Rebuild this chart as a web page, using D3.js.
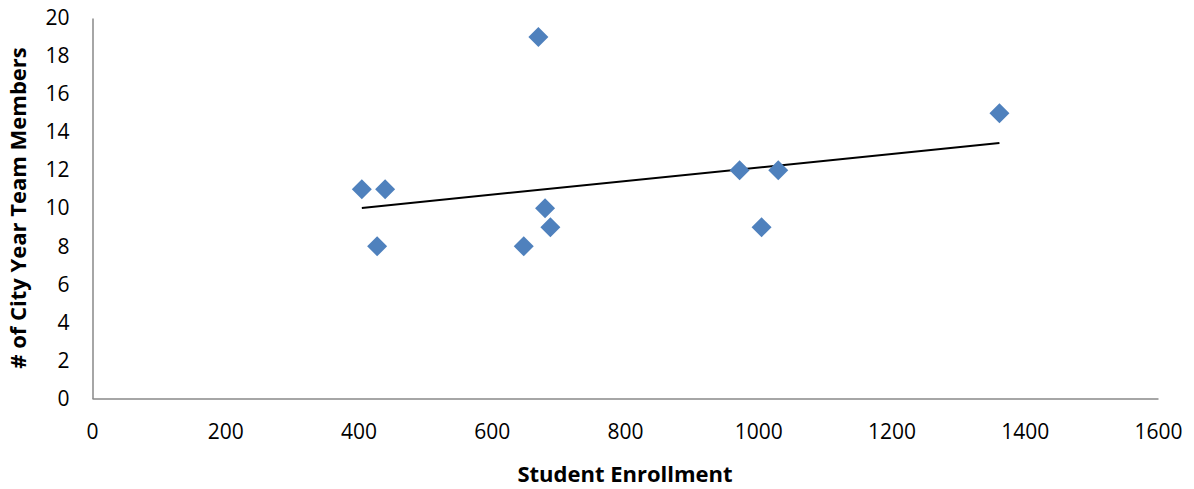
<!DOCTYPE html>
<html><head><meta charset="utf-8">
<script src="https://cdn.jsdelivr.net/npm/d3@7"></script>
<style>
body{margin:0;background:#fff;}
text{font-family:"Open Sans",sans-serif;fill:#000;}
</style></head>
<body><svg id="c" width="1194" height="489"></svg>
<script>
const enrollment = [405, 428, 440, 648, 670, 680, 688, 972, 1005, 1030, 1362];
const members    = [11, 8, 11, 8, 19, 10, 9, 12, 9, 12, 15];
const xTicks = [0,200,400,600,800,1000,1200,1400,1600];
const yTicks = [0,2,4,6,8,10,12,14,16,18,20];
const xTitle = "Student Enrollment";
const yTitle = "# of City Year Team Members";

const svg = d3.select("#c");
const x = d3.scaleLinear().domain([0,1600]).range([92,1158]);
const y = d3.scaleLinear().domain([0,20]).range([398.5,18]);
const FF = "'Open Sans',sans-serif";

const gx = svg.append("g").attr("transform","translate(0,398.5)")
  .call(d3.axisBottom(x).tickValues(xTicks).tickSize(0).tickPadding(26).tickFormat(d3.format("d")));
gx.select(".domain").attr("stroke","#898989").attr("stroke-width",1.5);
gx.selectAll("text").attr("font-size",21).attr("font-family",FF);
const gy = svg.append("g").attr("transform","translate(92.5,0)")
  .call(d3.axisLeft(y).tickValues(yTicks).tickSize(0).tickPadding(23).tickFormat(d3.format("d")));
gy.select(".domain").attr("stroke","#898989").attr("stroke-width",1.5);
gy.selectAll("text").attr("font-size",21).attr("font-family",FF);

// trendline (least squares)
const n = enrollment.length;
const mx = d3.mean(enrollment), my = d3.mean(members);
let sxy=0,sxx=0;
for(let i=0;i<n;i++){sxy+=(enrollment[i]-mx)*(members[i]-my);sxx+=(enrollment[i]-mx)**2;}
const b = sxy/sxx, a = my-b*mx;
const x0 = d3.min(enrollment), x1 = d3.max(enrollment);
svg.append("line").attr("x1",x(x0)).attr("y1",y(a+b*x0)).attr("x2",x(x1)).attr("y2",y(a+b*x1))
  .attr("stroke","#000").attr("stroke-width",2);

svg.append("g").selectAll("path").data(enrollment).join("path")
  .attr("d",(d,i)=>{const cx=x(d),cy=y(members[i]),r=10;return `M${cx},${cy-r}L${cx+r},${cy}L${cx},${cy+r}L${cx-r},${cy}Z`;})
  .attr("fill","#4F81BD");

svg.append("text").attr("x",625).attr("y",482).attr("text-anchor","middle")
  .attr("font-size",22).attr("font-weight","bold").attr("font-family",FF).text(xTitle);
svg.append("text").attr("transform","translate(26,208) rotate(-90)").attr("text-anchor","middle")
  .attr("font-size",22).attr("font-weight","bold").attr("font-family",FF).text(yTitle);
</script></body></html>
